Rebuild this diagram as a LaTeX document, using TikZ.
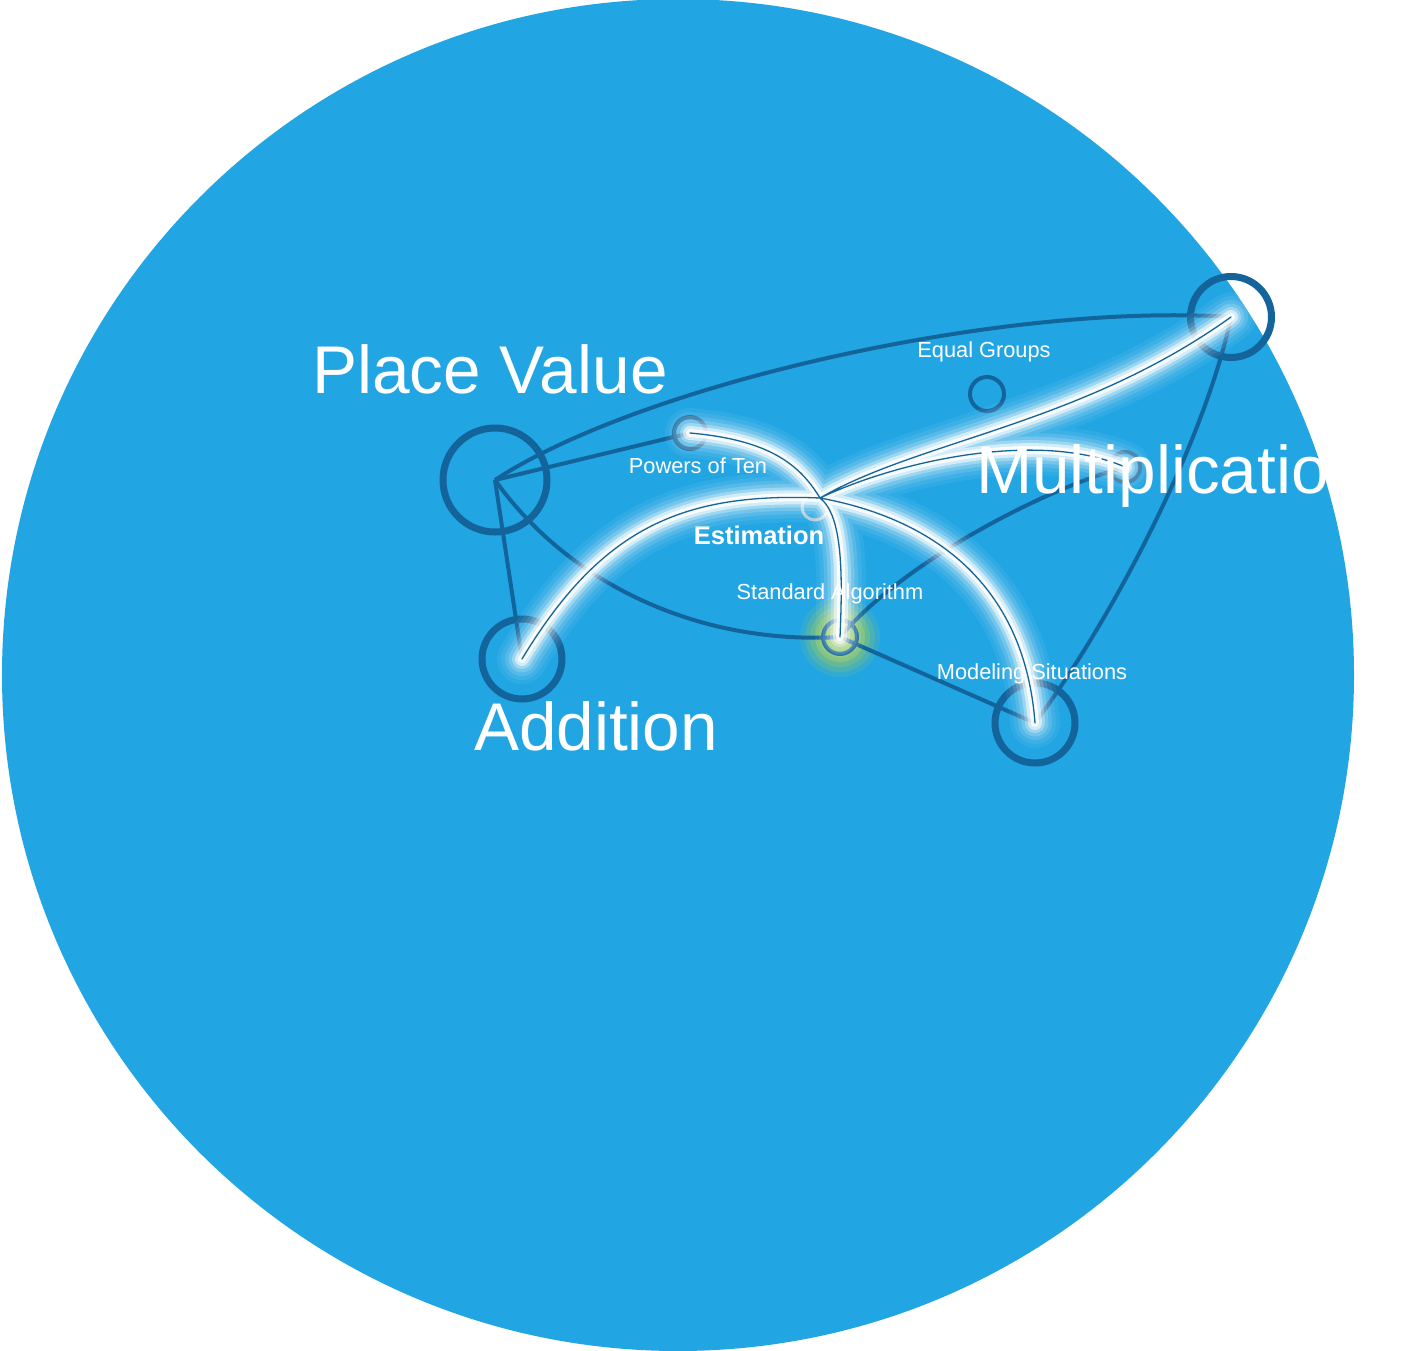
\documentclass[tikz,border=0pt]{standalone}
\usepackage{fontspec}
\setmainfont{Liberation Sans}
\usetikzlibrary{positioning}

\definecolor{discblue}{HTML}{21A5E3}
\definecolor{edgeblue}{HTML}{14649C}
\definecolor{glowgreen}{HTML}{9CCB5E}

\begin{document}
\begin{tikzpicture}[
  x=1pt, y=-1pt,
  ring/.style={circle, draw=edgeblue, inner sep=0pt, line width=7pt},
  smallring/.style={ring, line width=4pt},
  link/.style={draw=edgeblue, line width=4pt},
  glowlink/.style={draw=edgeblue, line width=1.3pt, line cap=round,
    preaction={draw=white, line cap=round, line width=50pt, opacity=.06},
    preaction={draw=white, line cap=round, line width=42pt, opacity=.08},
    preaction={draw=white, line cap=round, line width=34pt, opacity=.12},
    preaction={draw=white, line cap=round, line width=27pt, opacity=.18},
    preaction={draw=white, line cap=round, line width=20pt, opacity=.3},
    preaction={draw=white, line cap=round, line width=14pt, opacity=.55},
    preaction={draw=white, line cap=round, line width=8pt, opacity=.85}},
  biglbl/.style={text=white, inner sep=0pt, anchor=base, font=\fontsize{67.5}{70}\selectfont},
  lbl/.style={text=white, inner sep=0pt, anchor=base, font=\fontsize{21.8}{24}\selectfont}
]
\useasboundingbox (0,0) rectangle (1406,1350);
\fill[white] (0,0) rectangle (1406,1350);
\node[circle, fill=discblue, inner sep=0pt, minimum size=1352pt] (disc) at (678,675) {};

% green halo behind the standard algorithm node
\foreach \r/\o in {40/.15, 35/.22, 30/.32, 25/.45, 20/.55}
  \fill[glowgreen, opacity=\o] (840,637) circle [radius=\r pt];

% nodes
\node[ring, minimum size=104pt] (pv) at (495,480) {};
\node[ring, minimum size=80pt] (add) at (522,659) {};
\node[ring, minimum size=81pt] (mul) at (1231,317) {};
\node[ring, minimum size=80pt] (mod) at (1035,723) {};
\node[smallring, minimum size=34pt] (eqg) at (987,394) {};
\node[smallring, minimum size=32pt] (pow) at (690,433) {};
\node[smallring, minimum size=34pt] (std) at (840,637) {};
\node[smallring, minimum size=30pt] (mid) at (1125,467) {};
\node[smallring, minimum size=26pt, line width=3pt, draw=edgeblue!35!white] (est) at (815,507) {};
\coordinate (hub) at (820,498);

% plain links
\draw[link] (pv.center) .. controls (640,385) and (1000,302) .. (mul.center);
\draw[link] (pv.center) -- (pow.center);
\draw[link] (pv.center) -- (add.center);
\draw[link] (pv.center) .. controls (570,585) and (700,645) .. (std.center);
\draw[link] (std.center) -- (mod.center);
\draw[link] (std.center) .. controls (900,565) and (1040,490) .. (mid.center);
\draw[link] (mod.center) .. controls (1115,615) and (1205,440) .. (mul.center);

% glowing links out of estimation
\draw[glowlink]
  (hub) .. controls (800,465) and (770,440) .. (pow.center)
  (hub) .. controls (680,492) and (600,530) .. (add.center)
  (hub) .. controls (842,515) and (843,570) .. (std.center)
  (hub) .. controls (940,520) and (1025,590) .. (mod.center)
  (hub) .. controls (920,440) and (1080,425) .. (mul.center)
  (hub) .. controls (900,460) and (1040,430) .. (mid.center);

% labels
\node[biglbl] (pvtxt) at (490,393) {Place Value};
\node[biglbl] (addtxt) at (596,750) {Addition};
\begin{scope}
  \clip (678,675) circle [radius=676pt];
  \node[biglbl, anchor=base west] (multxt) at (976,493) {Multiplicatio};
\end{scope}
\node[lbl] (powtxt) at (698,473) {Powers of Ten};
\node[lbl, font=\bfseries\fontsize{25.5}{28}\selectfont] (esttxt) at (759,544) {Estimation};
\node[lbl] (eqgtxt) at (984,357) {Equal Groups};
\node[lbl] (stdtxt) at (830,599) {Standard Algorithm};
\node[lbl] (modtxt) at (1032,679) {Modeling Situations};
\end{tikzpicture}
\end{document}
